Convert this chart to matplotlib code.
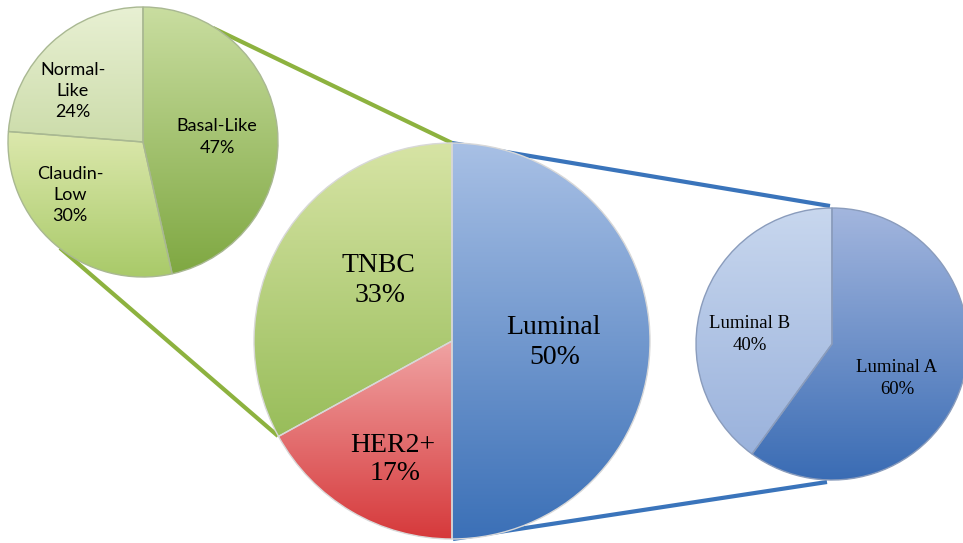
import numpy as np
import matplotlib.pyplot as plt
from matplotlib.colors import to_rgb

# main pie
main_labels = ["Luminal", "HER2+", "TNBC"]
main_values = [50, 17, 33]
main_top = ["#a8c0e5", "#f0a3a3", "#d7e4a5"]
main_bot = ["#3b70b7", "#d6393b", "#98bd5a"]

# TNBC breakdown (left)
tnbc_labels = ["Basal-Like", "Claudin-\nLow", "Normal-\nLike"]
tnbc_values = [47, 30, 24]
tnbc_top = ["#c9dda0", "#dce8ad", "#e8f0d3"]
tnbc_bot = ["#7fa842", "#a9ca69", "#ccdcaa"]

# Luminal breakdown (right)
lum_labels = ["Luminal A", "Luminal B"]
lum_values = [60, 40]
lum_top = ["#a3b6de", "#c8d7ee"]
lum_bot = ["#3a6cb4", "#9ab2dc"]

H = 543


def gradient_pie(ax, values, tops, bots, center, radius, edge):
    wedges, _ = ax.pie(values, startangle=90, counterclock=False,
                       center=center, radius=radius,
                       wedgeprops=dict(facecolor="none", edgecolor=edge,
                                       linewidth=1.0, zorder=3))
    for w, c1, c2 in zip(wedges, tops, bots):
        ext = w.get_path().get_extents()
        t = np.linspace(0, 1, 256)[:, None]
        img = (1 - t) * np.array(to_rgb(c1)) + t * np.array(to_rgb(c2))
        ax.imshow(img[:, None, :], extent=[ext.x0, ext.x1, ext.y0, ext.y1],
                  origin="upper", interpolation="bilinear",
                  clip_path=w, zorder=2)
    return wedges


fig = plt.figure(figsize=(9.63, 5.43), dpi=100)
ax = fig.add_axes([0, 0, 1, 1])

green = "#8db23f"
blue = "#3a74bb"

# connector lines
ax.plot([213, 452], [H - 28, H - 143], color=green, lw=3, zorder=1,
        solid_capstyle="butt")
ax.plot([60, 278], [H - 248, H - 436], color=green, lw=3, zorder=1,
        solid_capstyle="butt")
ax.plot([452, 830], [H - 143, H - 206], color=blue, lw=3, zorder=1,
        solid_capstyle="butt")
ax.plot([453, 827], [H - 539, H - 482], color=blue, lw=3, zorder=1,
        solid_capstyle="butt")

gradient_pie(ax, main_values, main_top, main_bot, (452, H - 341), 198, "#d8d8d8")
gradient_pie(ax, tnbc_values, tnbc_top, tnbc_bot, (143, H - 142), 135, "#a9b892")
gradient_pie(ax, lum_values, lum_top, lum_bot, (832, H - 344), 136, "#8a9cbc")

serif = dict(family="Liberation Serif", ha="center", va="center", zorder=5)
sans = dict(family="Lato", ha="center", va="center", zorder=5,
            linespacing=1.4)

# main labels
main_pos = [(553, 327, 358), (393, 445, 473), (378, 265, 295)]
for lab, v, (x, y1, y2) in zip(main_labels, main_values, main_pos):
    ax.text(x, H - y1, lab, fontsize=20, **serif)
    ax.text(x + 2, H - y2, f"{v}%", fontsize=20, **serif)

# right labels
lum_pos = [(897, 367, 390), (750, 323, 345)]
for lab, v, (x, y1, y2) in zip(lum_labels, lum_values, lum_pos):
    ax.text(x, H - y1, lab, fontsize=13.5, **serif)
    ax.text(x, H - y2, f"{v}%", fontsize=13.5, **serif)

# left labels
tnbc_pos = [(217, 137), (70, 195), (73, 91)]
for lab, v, (x, y) in zip(tnbc_labels, tnbc_values, tnbc_pos):
    ax.text(x, H - y, f"{lab}\n{v}%", fontsize=13, **sans)

ax.set_xlim(0, 963)
ax.set_ylim(0, H)
ax.set_aspect("auto")
ax.axis("off")
fig.savefig("out.png", dpi=100)
